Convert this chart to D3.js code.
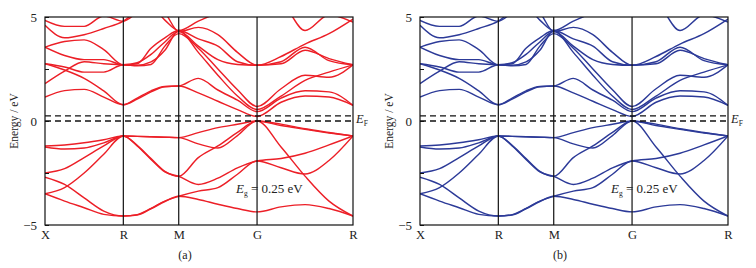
<!DOCTYPE html>
<html>
<head>
<meta charset="utf-8">
<script src="https://cdn.jsdelivr.net/npm/d3@7"></script>
<style>
  body { margin: 0; background: #fff; }
  text { font-family: "Liberation Serif", "Times New Roman", serif; fill: #222; }
</style>
</head>
<body>
<div id="chart"></div>
<script>
// high-symmetry path (k distances in 2pi/a)
const kNodes = [0, 0.707, 1.207, 1.914, 2.780];
const kLabels = ["X", "R", "M", "G", "R"];
const kSteps = [0, 0.25, 0.5, 0.75];
const yTicks = [-5, -2.5, 0, 2.5, 5];
const fermiLines = [0, 0.25];
const gapText = "0.25 eV";

// energies (eV) at X .. R .. M .. G .. R, quarter steps along each segment
const valenceBands = [
  [-1.2, -1.15, -1.05, -0.9, -0.72, -0.74, -0.76, -0.78, -0.8, -0.56, -0.32, -0.16, 0.0, -0.15, -0.37, -0.55, -0.72],
  [-1.25, -1.35, -1.3, -1.05, -0.72, -0.74, -0.76, -0.78, -0.8, -1.1, -1.3, -0.7, 0.0, -0.22, -0.4, -0.58, -0.72],
  [-2.5, -2.29, -1.76, -1.2, -0.72, -1.17, -1.81, -2.42, -2.66, -1.76, -1.2, -0.55, 0.0, -1.25, -2.65, -3.85, -4.57],
  [-3.5, -3.2, -2.5, -1.6, -0.72, -1.2, -1.85, -2.45, -2.66, -3.05, -2.75, -2.25, -1.92, -1.8, -1.55, -1.15, -0.72],
  [-2.7, -3.05, -3.7, -4.33, -4.57, -4.5, -4.2, -3.85, -3.62, -3.37, -3.2, -2.56, -1.92, -2.25, -2.55, -1.9, -0.72],
  [-3.5, -3.85, -4.17, -4.49, -4.57, -4.52, -4.22, -3.87, -3.62, -3.77, -4.0, -4.21, -4.37, -4.13, -4.02, -4.21, -4.57]
];
const conductionBands = [
  [1.15, 1.46, 1.52, 1.15, 0.78, 1.05, 1.4, 1.65, 1.68, 1.35, 0.95, 0.55, 0.22, 0.9, 1.2, 1.15, 0.75],
  [2.75, 2.45, 2.05, 1.45, 0.78, 1.1, 1.45, 1.66, 1.68, 2.05, 1.49, 1.0, 0.45, 1.1, 1.45, 1.4, 0.75],
  [1.8, 2.4, 2.85, 2.75, 2.7, 2.68, 2.84, 3.4, 4.35, 3.3, 2.2, 1.2, 0.55, 1.2, 1.95, 2.35, 2.7],
  [2.75, 2.6, 2.35, 2.35, 2.7, 2.65, 2.72, 3.6, 4.2, 3.5, 2.5, 1.5, 0.7, 1.55, 2.2, 2.1, 2.7],
  [3.55, 3.82, 3.9, 3.43, 2.7, 2.8, 3.2, 3.8, 4.3, 3.6, 2.95, 2.72, 2.68, 2.75, 3.4, 3.0, 2.7],
  [3.55, 3.15, 2.95, 2.95, 2.7, 2.75, 3.5, 4.0, 4.35, 3.95, 3.6, 2.85, 2.68, 2.85, 3.55, 2.9, 2.7],
  [4.84, 4.55, 4.55, 5.05, 4.8, 5.2, 5.5, 4.85, 4.35, 4.8, 5.2, 5.5, 5.6, 5.6, 4.35, 5.1, 4.75],
  [4.6, 4.0, 4.15, 4.45, 4.8, 5.3, 5.6, 5.2, 4.3, 4.5, 4.15, 3.3, 2.68, 3.1, 3.7, 4.2, 4.9]
];

// k grid shared by all bands
const kGrid = [];
for (let i = 0; i < kNodes.length - 1; i++) {
  kSteps.forEach(f => kGrid.push(kNodes[i] + f * (kNodes[i + 1] - kNodes[i])));
}
kGrid.push(kNodes[kNodes.length - 1]);

const bands = valenceBands.concat(conductionBands);

const panels = [
  {name: "(a)", color: "#ec1f27", left: 45},
  {name: "(b)", color: "#2c3a98", left: 420}
];
const plotW = 308, plotTop = 17, plotBottom = 225;

const svg = d3.select("#chart")
  .append("svg")
  .attr("width", 756)
  .attr("height", 268);

panels.forEach((p, pi) => {
  const x = d3.scaleLinear().domain([0, kNodes[kNodes.length - 1]]).range([p.left, p.left + plotW]);
  const y = d3.scaleLinear().domain([-5, 5]).range([plotBottom, plotTop]);

  const g = svg.append("g");

  g.append("clipPath").attr("id", "clip" + pi)
    .append("rect")
    .attr("x", p.left).attr("y", plotTop)
    .attr("width", plotW).attr("height", plotBottom - plotTop);

  const line = d3.line()
    .x((d, i) => x(kGrid[i]))
    .y(d => y(d))
    .curve(d3.curveMonotoneX);

  g.append("g")
    .attr("clip-path", `url(#clip${pi})`)
    .selectAll("path")
    .data(bands)
    .enter()
    .append("path")
    .attr("d", line)
    .attr("fill", "none")
    .attr("stroke", p.color)
    .attr("stroke-width", 1.45)
    .attr("stroke-linejoin", "round");

  // vertical lines at high symmetry points
  g.selectAll("line.sym")
    .data(kNodes.slice(1, -1))
    .enter()
    .append("line")
    .attr("class", "sym")
    .attr("x1", d => x(d)).attr("x2", d => x(d))
    .attr("y1", plotTop).attr("y2", plotBottom)
    .attr("stroke", "#111")
    .attr("stroke-width", 1.2);

  // Fermi level / gap dashed lines
  g.selectAll("line.ef")
    .data(fermiLines)
    .enter()
    .append("line")
    .attr("class", "ef")
    .attr("x1", p.left).attr("x2", p.left + plotW)
    .attr("y1", d => y(d)).attr("y2", d => y(d))
    .attr("stroke", "#111")
    .attr("stroke-width", 1.3)
    .attr("stroke-dasharray", "6,4");

  g.append("rect")
    .attr("x", p.left).attr("y", plotTop)
    .attr("width", plotW).attr("height", plotBottom - plotTop)
    .attr("fill", "none")
    .attr("stroke", "#111")
    .attr("stroke-width", 1.2);

  const yAxis = g.append("g")
    .attr("transform", `translate(${p.left},0)`)
    .call(d3.axisLeft(y)
      .tickValues(yTicks)
      .tickSizeInner(-4)
      .tickSizeOuter(0)
      .tickPadding(8)
      .tickFormat(d => Number.isInteger(d) ? d3.format("d")(d) : ""));
  yAxis.select(".domain").remove();
  yAxis.selectAll("line").attr("stroke", "#111");
  yAxis.selectAll("text").style("font-size", "13px").attr("fill", "#222");

  const xAxis = g.append("g")
    .attr("transform", `translate(0,${plotBottom})`)
    .call(d3.axisBottom(x)
      .tickValues(kNodes)
      .tickSize(0)
      .tickPadding(5)
      .tickFormat((d, i) => kLabels[i]));
  xAxis.select(".domain").remove();
  xAxis.selectAll("text").style("font-size", "12.5px").attr("fill", "#222");

  // y label
  g.append("text")
    .attr("transform", `translate(${p.left - 27},121) rotate(-90)`)
    .attr("text-anchor", "middle")
    .style("font-size", "11.5px")
    .text("Energy / eV");

  // panel name
  g.append("text")
    .attr("x", p.left + 140)
    .attr("y", 259)
    .attr("text-anchor", "middle")
    .style("font-size", "12px")
    .text(p.name);

  // E_F
  const ef = g.append("text")
    .attr("x", p.left + 311)
    .attr("y", y(0.12) + 4)
    .style("font-size", "12.5px");
  ef.append("tspan").style("font-style", "italic").text("E");
  ef.append("tspan").attr("dy", 3).style("font-size", "7.5px").text("F");

  // gap label
  const eg = g.append("text")
    .attr("x", p.left + 191)
    .attr("y", 193)
    .style("font-size", "13px");
  eg.append("tspan").style("font-style", "italic").text("E");
  eg.append("tspan").attr("dy", 3).style("font-size", "7.5px").text("g");
  eg.append("tspan").attr("dy", -3).text(" = " + gapText);
});
</script>
</body>
</html>
